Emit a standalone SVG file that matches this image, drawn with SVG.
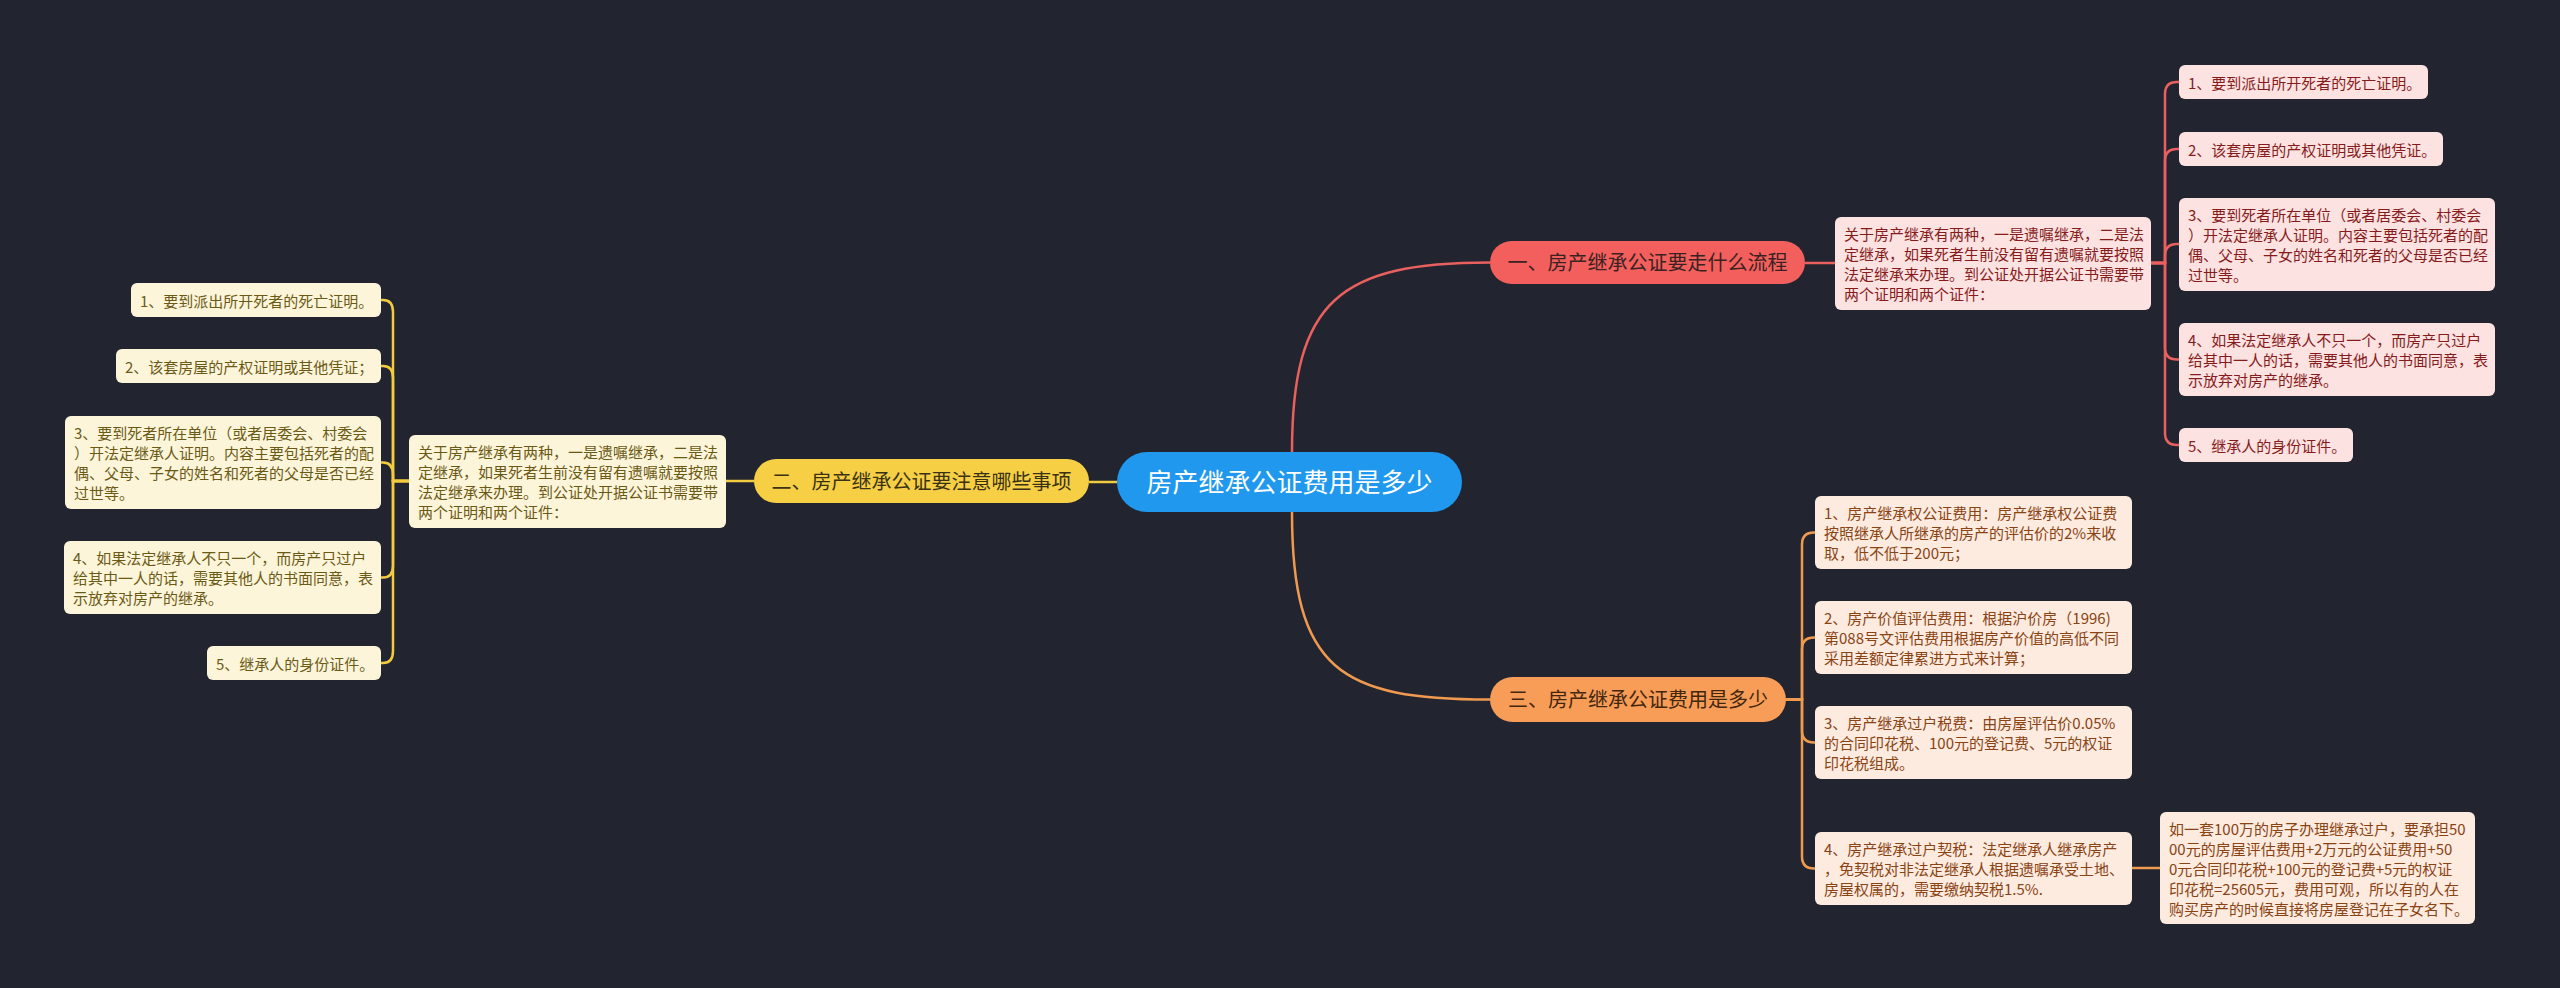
<svg xmlns="http://www.w3.org/2000/svg" width="2560" height="988" viewBox="0 0 2560 988">
<style>
text{font-family:"Noto Sans CJK SC","Microsoft YaHei",sans-serif;}
.t15{font-size:15px;}
.br{font-size:20px;text-anchor:middle;}
.ctr{font-size:26px;text-anchor:middle;fill:#ffffff;}
.lr{fill:none;stroke:#e9605f;stroke-width:2.5;}
.lo{fill:none;stroke:#f09a50;stroke-width:2.5;}
.ly{fill:none;stroke:#f2cc3e;stroke-width:2.5;}
.rbox{fill:#fde2e2;}
.rtxt{fill:#861b1b;}
.obox{fill:#fdebe0;}
.otxt{fill:#8a4313;}
.ybox{fill:#fdf5da;}
.ytxt{fill:#6b5a16;}
</style>
<rect width="2560" height="988" fill="#22242f"/>
<g id="connectors">
<path class="lr" d="M1292,452 C1292,300 1340,262.5 1490,262.5"/>
<path class="lo" d="M1292,512 C1292,670 1340,699.5 1490,699.5"/>
<path class="ly" d="M1117,482 H1089"/>
<path class="ly" d="M754,481 H726"/>
<path class="lr" d="M1805,263 H1835"/>
<path class="lr" d="M2151,263 H2165 V94 Q2165,82 2177,82 H2179"/>
<path class="lr" d="M2151,263 H2165 V161 Q2165,149 2177,149 H2179"/>
<path class="lr" d="M2151,263 H2165 V256 Q2165,244 2177,244 H2179"/>
<path class="lr" d="M2151,263 H2165 V347.5 Q2165,359.5 2177,359.5 H2179"/>
<path class="lr" d="M2151,263 H2165 V433 Q2165,445 2177,445 H2179"/>
<path class="ly" d="M409,481 H393 V312 Q393,300 383,300 H381"/>
<path class="ly" d="M409,481 H393 V378 Q393,366 383,366 H381"/>
<path class="ly" d="M409,481 H393 V474.5 Q393,462.5 383,462.5 H381"/>
<path class="ly" d="M409,481 H393 V565.5 Q393,577.5 383,577.5 H381"/>
<path class="ly" d="M409,481 H393 V651 Q393,663 383,663 H381"/>
<path class="lo" d="M1786,699.5 H1802 V544.5 Q1802,532.5 1814,532.5 H1815"/>
<path class="lo" d="M1786,699.5 H1802 V649.5 Q1802,637.5 1814,637.5 H1815"/>
<path class="lo" d="M1786,699.5 H1802 V730.5 Q1802,742.5 1814,742.5 H1815"/>
<path class="lo" d="M1786,699.5 H1802 V856.5 Q1802,868.5 1814,868.5 H1815"/>
<path class="lo" d="M2132,868 H2160"/>
</g>
<g id="center">
<rect x="1117" y="452" width="345" height="60" rx="30" fill="#1f98ee"/>
<text class="ctr" x="1289.5" y="492">房产继承公证费用是多少</text>
</g>
<g id="branch1">
<rect x="1490" y="241" width="315" height="43" rx="21.5" fill="#f25f5c"/>
<text class="br" x="1647.5" y="270" fill="#3a2222">一、房产继承公证要走什么流程</text>
</g>
<g id="branch2">
<rect x="754" y="459" width="335" height="44" rx="22" fill="#f7cf45"/>
<text class="br" x="921.5" y="488.5" fill="#3a3214">二、房产继承公证要注意哪些事项</text>
</g>
<g id="branch3">
<rect x="1490" y="677" width="296" height="45" rx="22.5" fill="#f79d58"/>
<text class="br" x="1638" y="707" fill="#43260e">三、房产继承公证费用是多少</text>
</g>
<g id="b1-desc">
<rect class="rbox" x="1835" y="217" width="316" height="93" rx="6"/>
<text class="t15 rtxt" x="1844" y="240"><tspan x="1844">关于房产继承有两种，一是遗嘱继承，二是法</tspan><tspan x="1844" dy="20">定继承，如果死者生前没有留有遗嘱就要按照</tspan><tspan x="1844" dy="20">法定继承来办理。到公证处开据公证书需要带</tspan><tspan x="1844" dy="20">两个证明和两个证件：</tspan></text>
</g>
<g id="b1-leaf1">
<rect class="rbox" x="2179" y="65" width="249" height="34" rx="6"/>
<text class="t15 rtxt" x="2188" y="88.5">1、要到派出所开死者的死亡证明。</text>
</g>
<g id="b1-leaf2">
<rect class="rbox" x="2179" y="132" width="264" height="34" rx="6"/>
<text class="t15 rtxt" x="2188" y="155.5">2、该套房屋的产权证明或其他凭证。</text>
</g>
<g id="b1-leaf3">
<rect class="rbox" x="2179" y="198" width="316" height="93" rx="6"/>
<text class="t15 rtxt" x="2188" y="221"><tspan x="2188">3、要到死者所在单位（或者居委会、村委会</tspan><tspan x="2188" dy="20">）开法定继承人证明。内容主要包括死者的配</tspan><tspan x="2188" dy="20">偶、父母、子女的姓名和死者的父母是否已经</tspan><tspan x="2188" dy="20">过世等。</tspan></text>
</g>
<g id="b1-leaf4">
<rect class="rbox" x="2179" y="323" width="316" height="73" rx="6"/>
<text class="t15 rtxt" x="2188" y="346"><tspan x="2188">4、如果法定继承人不只一个，而房产只过户</tspan><tspan x="2188" dy="20">给其中一人的话，需要其他人的书面同意，表</tspan><tspan x="2188" dy="20">示放弃对房产的继承。</tspan></text>
</g>
<g id="b1-leaf5">
<rect class="rbox" x="2179" y="428" width="174" height="34" rx="6"/>
<text class="t15 rtxt" x="2188" y="451.5">5、继承人的身份证件。</text>
</g>
<g id="b2-desc">
<rect class="ybox" x="409" y="435" width="317" height="93" rx="6"/>
<text class="t15 ytxt" x="418" y="458"><tspan x="418">关于房产继承有两种，一是遗嘱继承，二是法</tspan><tspan x="418" dy="20">定继承，如果死者生前没有留有遗嘱就要按照</tspan><tspan x="418" dy="20">法定继承来办理。到公证处开据公证书需要带</tspan><tspan x="418" dy="20">两个证明和两个证件：</tspan></text>
</g>
<g id="b2-leaf1">
<rect class="ybox" x="131" y="283" width="250" height="34" rx="6"/>
<text class="t15 ytxt" x="140" y="306.5">1、要到派出所开死者的死亡证明。</text>
</g>
<g id="b2-leaf2">
<rect class="ybox" x="116" y="349" width="265" height="34" rx="6"/>
<text class="t15 ytxt" x="125" y="372.5">2、该套房屋的产权证明或其他凭证；</text>
</g>
<g id="b2-leaf3">
<rect class="ybox" x="65" y="416" width="316" height="93" rx="6"/>
<text class="t15 ytxt" x="74" y="439"><tspan x="74">3、要到死者所在单位（或者居委会、村委会</tspan><tspan x="74" dy="20">）开法定继承人证明。内容主要包括死者的配</tspan><tspan x="74" dy="20">偶、父母、子女的姓名和死者的父母是否已经</tspan><tspan x="74" dy="20">过世等。</tspan></text>
</g>
<g id="b2-leaf4">
<rect class="ybox" x="64" y="541" width="317" height="73" rx="6"/>
<text class="t15 ytxt" x="73" y="564"><tspan x="73">4、如果法定继承人不只一个，而房产只过户</tspan><tspan x="73" dy="20">给其中一人的话，需要其他人的书面同意，表</tspan><tspan x="73" dy="20">示放弃对房产的继承。</tspan></text>
</g>
<g id="b2-leaf5">
<rect class="ybox" x="207" y="646" width="174" height="34" rx="6"/>
<text class="t15 ytxt" x="216" y="669.5">5、继承人的身份证件。</text>
</g>
<g id="b3-leaf1">
<rect class="obox" x="1815" y="496" width="317" height="73" rx="6"/>
<text class="t15 otxt" x="1824" y="519"><tspan x="1824">1、房产继承权公证费用：房产继承权公证费</tspan><tspan x="1824" dy="20">按照继承人所继承的房产的评估价的2%来收</tspan><tspan x="1824" dy="20">取，低不低于200元；</tspan></text>
</g>
<g id="b3-leaf2">
<rect class="obox" x="1815" y="601" width="317" height="73" rx="6"/>
<text class="t15 otxt" x="1824" y="624"><tspan x="1824">2、房产价值评估费用：根据沪价房（1996)</tspan><tspan x="1824" dy="20">第088号文评估费用根据房产价值的高低不同</tspan><tspan x="1824" dy="20">采用差额定律累进方式来计算；</tspan></text>
</g>
<g id="b3-leaf3">
<rect class="obox" x="1815" y="706" width="317" height="73" rx="6"/>
<text class="t15 otxt" x="1824" y="729"><tspan x="1824">3、房产继承过户税费：由房屋评估价0.05%</tspan><tspan x="1824" dy="20">的合同印花税、100元的登记费、5元的权证</tspan><tspan x="1824" dy="20">印花税组成。</tspan></text>
</g>
<g id="b3-leaf4">
<rect class="obox" x="1815" y="832" width="317" height="73" rx="6"/>
<text class="t15 otxt" x="1824" y="855"><tspan x="1824">4、房产继承过户契税：法定继承人继承房产</tspan><tspan x="1824" dy="20">，免契税对非法定继承人根据遗嘱承受土地、</tspan><tspan x="1824" dy="20">房屋权属的，需要缴纳契税1.5%.</tspan></text>
</g>
<g id="b3-leaf4-note">
<rect class="obox" x="2160" y="812" width="315" height="112" rx="6"/>
<text class="t15 otxt" x="2169" y="834.5"><tspan x="2169">如一套100万的房子办理继承过户，要承担50</tspan><tspan x="2169" dy="20">00元的房屋评估费用+2万元的公证费用+50</tspan><tspan x="2169" dy="20">0元合同印花税+100元的登记费+5元的权证</tspan><tspan x="2169" dy="20">印花税=25605元，费用可观，所以有的人在</tspan><tspan x="2169" dy="20">购买房产的时候直接将房屋登记在子女名下。</tspan></text>
</g>
</svg>
